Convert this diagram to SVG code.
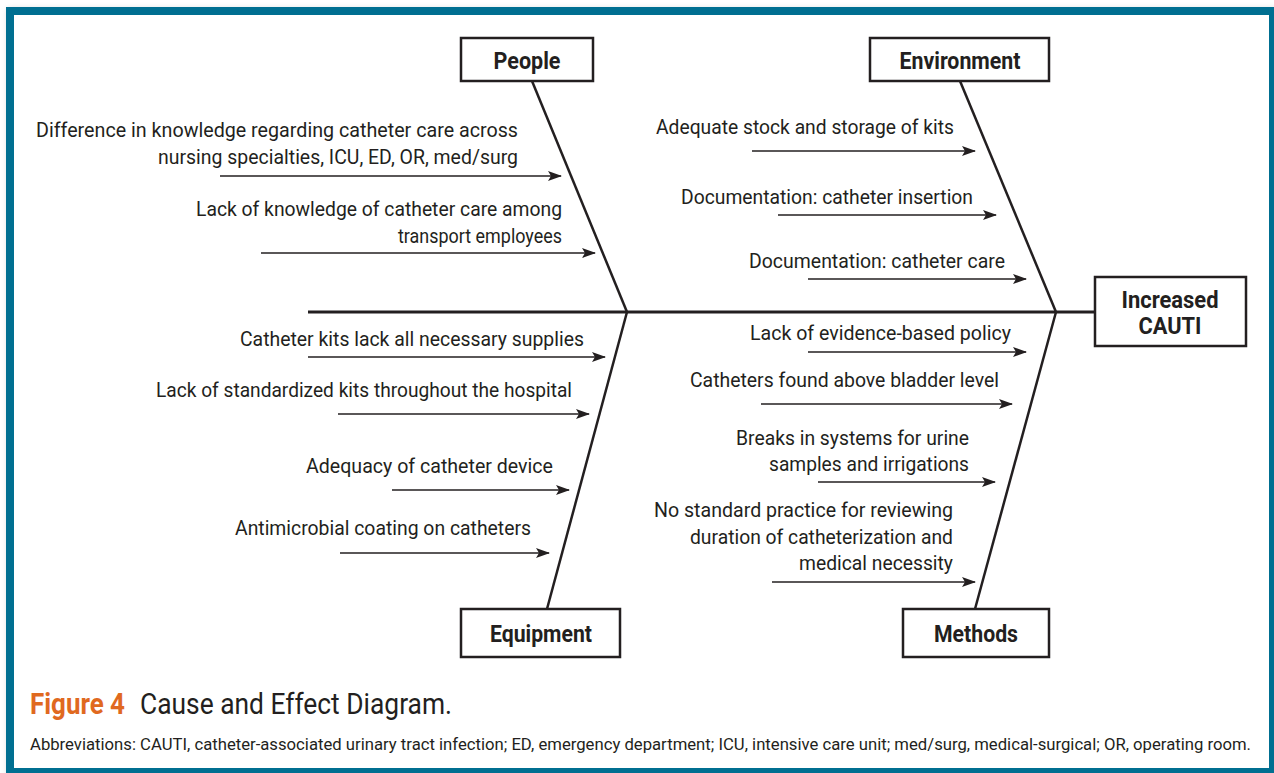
<svg xmlns="http://www.w3.org/2000/svg" width="1274" height="773" viewBox="0 0 1274 773">
<defs>
<filter id="sh" x="-5%" y="-5%" width="110%" height="110%"><feGaussianBlur stdDeviation="3"/></filter>
<marker id="ah" markerWidth="14" markerHeight="10" refX="13" refY="5" orient="auto" markerUnits="userSpaceOnUse">
<path d="M0,0 L14,5 L0,10 L3,5 z" fill="#231f20"/>
</marker>
<style>
.t{font-family:"Liberation Sans Narrow","Roboto","Liberation Sans",sans-serif;font-size:21px;fill:#231f20;text-anchor:end}
.b{font-family:"Liberation Sans Narrow","Roboto","Liberation Sans",sans-serif;font-size:23px;font-weight:bold;fill:#231f20;text-anchor:middle}
.box{fill:#fff;stroke:#231f20;stroke-width:2.5}
.bone{stroke:#231f20;stroke-width:2.5;fill:none}
.arr{stroke:#231f20;stroke-width:1.5;fill:none;marker-end:url(#ah)}
.cap{font-family:"Liberation Sans Narrow","Roboto","Liberation Sans",sans-serif;fill:#231f20}
</style>
</defs>
<rect x="8" y="9" width="1270" height="770" fill="#999" filter="url(#sh)" opacity="0.5"/>
<rect x="10" y="11" width="1263" height="761" fill="#fff" stroke="#006f91" stroke-width="8"/>

<g id="connectors">
<line class="bone" x1="308" y1="312" x2="1095" y2="312" style="stroke-width:3"/>
<line class="bone" x1="532" y1="81" x2="627" y2="312"/>
<line class="bone" x1="627" y1="312" x2="547" y2="609"/>
<line class="bone" x1="960" y1="81" x2="1056" y2="312"/>
<line class="bone" x1="1056" y1="312" x2="975" y2="609"/>
<line class="arr" x1="220" y1="176" x2="561" y2="176"/>
<line class="arr" x1="261" y1="253" x2="595" y2="253"/>
<line class="arr" x1="308" y1="357" x2="605" y2="357"/>
<line class="arr" x1="338" y1="414" x2="589" y2="414"/>
<line class="arr" x1="392" y1="490" x2="569" y2="490"/>
<line class="arr" x1="340" y1="553" x2="549" y2="553"/>
<line class="arr" x1="752" y1="151" x2="975" y2="151"/>
<line class="arr" x1="778" y1="215" x2="996" y2="215"/>
<line class="arr" x1="808" y1="279" x2="1026" y2="279"/>
<line class="arr" x1="808" y1="352" x2="1026" y2="352"/>
<line class="arr" x1="761" y1="404" x2="1012" y2="404"/>
<line class="arr" x1="818" y1="482" x2="995" y2="482"/>
<line class="arr" x1="772" y1="582" x2="975" y2="582"/>
</g>

<g id="people">
<rect class="box" x="461" y="38" width="132" height="43"/>
<text class="b" x="527" y="69" textLength="67" lengthAdjust="spacingAndGlyphs">People</text>
</g>
<g id="environment">
<rect class="box" x="870" y="38" width="179" height="43"/>
<text class="b" x="960" y="69" textLength="121" lengthAdjust="spacingAndGlyphs">Environment</text>
</g>
<g id="effect">
<rect class="box" x="1095" y="277" width="151" height="69"/>
<text class="b" x="1170" y="308" textLength="97" lengthAdjust="spacingAndGlyphs">Increased</text>
<text class="b" x="1170" y="334" textLength="63" lengthAdjust="spacingAndGlyphs">CAUTI</text>
</g>
<g id="equipment">
<rect class="box" x="461" y="609" width="159" height="48"/>
<text class="b" x="541" y="642" textLength="102" lengthAdjust="spacingAndGlyphs">Equipment</text>
</g>
<g id="methods">
<rect class="box" x="903" y="609" width="146" height="48"/>
<text class="b" x="976" y="642" textLength="84" lengthAdjust="spacingAndGlyphs">Methods</text>
</g>

<g id="people-causes">
<text class="t" x="518" y="137" textLength="482" lengthAdjust="spacingAndGlyphs">Difference in knowledge regarding catheter care across</text>
<text class="t" x="518" y="164" textLength="360" lengthAdjust="spacingAndGlyphs">nursing specialties, ICU, ED, OR, med/surg</text>
<text class="t" x="562" y="216" textLength="366" lengthAdjust="spacingAndGlyphs">Lack of knowledge of catheter care among</text>
<text class="t" x="562" y="243" textLength="164" lengthAdjust="spacingAndGlyphs">transport employees</text>
</g>
<g id="equipment-causes">
<text class="t" x="584" y="346" textLength="344" lengthAdjust="spacingAndGlyphs">Catheter kits lack all necessary supplies</text>
<text class="t" x="572" y="397" textLength="416" lengthAdjust="spacingAndGlyphs">Lack of standardized kits throughout the hospital</text>
<text class="t" x="553" y="473" textLength="247" lengthAdjust="spacingAndGlyphs">Adequacy of catheter device</text>
<text class="t" x="531" y="535" textLength="296" lengthAdjust="spacingAndGlyphs">Antimicrobial coating on catheters</text>
</g>
<g id="environment-causes">
<text class="t" x="954" y="134" textLength="298" lengthAdjust="spacingAndGlyphs">Adequate stock and storage of kits</text>
<text class="t" x="973" y="204" textLength="292" lengthAdjust="spacingAndGlyphs">Documentation: catheter insertion</text>
<text class="t" x="1005" y="268" textLength="256" lengthAdjust="spacingAndGlyphs">Documentation: catheter care</text>
</g>
<g id="methods-causes">
<text class="t" x="1011" y="340" textLength="261" lengthAdjust="spacingAndGlyphs">Lack of evidence-based policy</text>
<text class="t" x="999" y="387" textLength="309" lengthAdjust="spacingAndGlyphs">Catheters found above bladder level</text>
<text class="t" x="969" y="445" textLength="233" lengthAdjust="spacingAndGlyphs">Breaks in systems for urine</text>
<text class="t" x="969" y="471" textLength="200" lengthAdjust="spacingAndGlyphs">samples and irrigations</text>
<text class="t" x="953" y="517" textLength="299" lengthAdjust="spacingAndGlyphs">No standard practice for reviewing</text>
<text class="t" x="953" y="544" textLength="263" lengthAdjust="spacingAndGlyphs">duration of catheterization and</text>
<text class="t" x="953" y="570" textLength="154" lengthAdjust="spacingAndGlyphs">medical necessity</text>
</g>

<g id="caption">
<text class="cap" x="30" y="714" font-size="30" font-weight="bold" style="fill:#e0691f" textLength="95" lengthAdjust="spacingAndGlyphs">Figure 4</text>
<text class="cap" x="140" y="714" font-size="30" textLength="312" lengthAdjust="spacingAndGlyphs">Cause and Effect Diagram.</text>
<text class="cap" x="30" y="750" font-size="17" textLength="1221" lengthAdjust="spacingAndGlyphs">Abbreviations: CAUTI, catheter-associated urinary tract infection; ED, emergency department; ICU, intensive care unit; med/surg, medical-surgical; OR, operating room.</text>
</g>
</svg>
